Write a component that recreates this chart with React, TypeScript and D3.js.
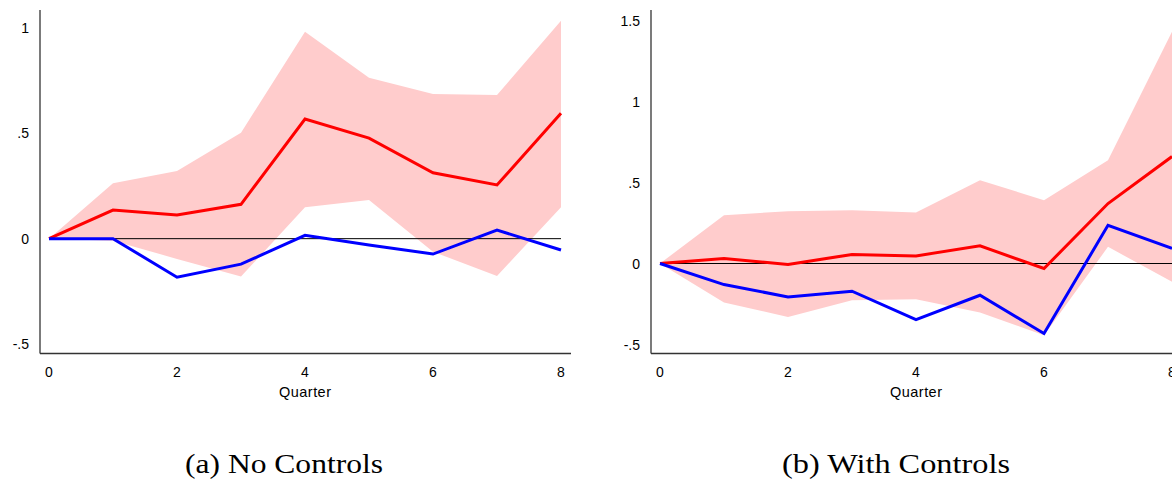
import React from "react";
import * as d3 from "d3";

// Impulse responses by quarter, with confidence band for the red response
const quarters = [0, 1, 2, 3, 4, 5, 6, 7, 8];

const noCtrlRed = [0, 0.136, 0.112, 0.163, 0.568, 0.477, 0.313, 0.255, 0.595];
const noCtrlBlue = [0, 0, -0.183, -0.121, 0.016, -0.03, -0.073, 0.041, -0.054];
const noCtrlUpper = [0, 0.263, 0.321, 0.503, 0.982, 0.764, 0.687, 0.682, 1.035];
const noCtrlLower = [0, -0.01, -0.096, -0.18, 0.149, 0.184, -0.062, -0.177, 0.149];

const ctrlRed = [0, 0.031, -0.006, 0.056, 0.047, 0.109, -0.031, 0.37, 0.66];
const ctrlBlue = [0, -0.13, -0.206, -0.171, -0.346, -0.196, -0.432, 0.236, 0.093];
const ctrlUpper = [0, 0.298, 0.323, 0.329, 0.315, 0.514, 0.391, 0.638, 1.43];
const ctrlLower = [0, -0.241, -0.33, -0.227, -0.22, -0.303, -0.443, 0.103, -0.113];

const xTicks = [0, 2, 4, 6, 8];
const yTicksA = [-0.5, 0, 0.5, 1];
const yTicksB = [-0.5, 0, 0.5, 1, 1.5];

const fmt = (v: number) => {
  if (v === 0) return "0";
  const s = String(v);
  return s.replace(/^(-?)0\./, "$1.");
};

type PanelProps = {
  x0: number;
  axisLeft: number;
  axisRight: number;
  yDomain: [number, number];
  yRange: [number, number];
  yTicks: number[];
  red: number[];
  blue: number[];
  upper: number[];
  lower: number[];
  caption: string;
  captionX: number;
  captionWidth: number;
};

function Panel(p: PanelProps) {
  const x = d3.scaleLinear().domain([0, 8]).range([p.x0, p.x0 + 512]);
  const y = d3.scaleLinear().domain(p.yDomain).range(p.yRange);
  const axisTop = 10;
  const axisBottom = 353.5;

  const band = d3
    .area<number>()
    .x((d) => x(d))
    .y0((d) => y(p.lower[d]))
    .y1((d) => y(p.upper[d]));
  const line = (vals: number[]) =>
    d3
      .line<number>()
      .x((d) => x(d))
      .y((d) => y(vals[d]))(quarters) || "";

  const font = "'Liberation Sans', Arial, Helvetica, sans-serif";

  return (
    <g>
      <path d={band(quarters) || ""} fill="rgb(255,204,204)" />
      <line
        x1={x(0)}
        x2={x(8)}
        y1={y(0)}
        y2={y(0)}
        stroke="#000"
        strokeWidth={1}
      />
      <path d={line(p.red)} fill="none" stroke="#ff0000" strokeWidth={3} strokeLinejoin="miter" />
      <path d={line(p.blue)} fill="none" stroke="#0000ff" strokeWidth={3} strokeLinejoin="miter" />

      {/* axes */}
      <line x1={p.axisLeft} x2={p.axisLeft} y1={axisTop} y2={axisBottom} stroke="#333" strokeWidth={1.3} />
      <line x1={p.axisLeft} x2={p.axisRight} y1={axisBottom} y2={axisBottom} stroke="#333" strokeWidth={1.3} />

      {p.yTicks.map((t) => (
        <text
          key={"y" + t}
          x={p.axisLeft - 11}
          y={y(t)}
          textAnchor="end"
          dominantBaseline="central"
          fontFamily={font}
          fontSize={14}
          fill="#000"
        >
          {fmt(t)}
        </text>
      ))}
      {xTicks.map((t) => (
        <text
          key={"x" + t}
          x={x(t)}
          y={372}
          textAnchor="middle"
          dominantBaseline="central"
          fontFamily={font}
          fontSize={14}
          fill="#000"
        >
          {t}
        </text>
      ))}
      <text
        x={x(4)}
        y={392}
        textAnchor="middle"
        dominantBaseline="central"
        fontFamily={font}
        fontSize={14.5}
        textLength={52}
        lengthAdjust="spacing"
        fill="#000"
      >
        Quarter
      </text>
      <text
        x={p.captionX}
        y={473}
        textAnchor="middle"
        fontFamily="'Liberation Serif', 'Times New Roman', serif"
        fontSize={27}
        textLength={p.captionWidth}
        lengthAdjust="spacingAndGlyphs"
        fill="#000"
      >
        {p.caption}
      </text>
    </g>
  );
}

export default function App() {
  return (
    <svg
      width={1172}
      height={479}
      style={{ position: "absolute", left: 0, top: 0, background: "#fff" }}
    >
      <rect width={1172} height={479} fill="#fff" />
      <Panel
        x0={49}
        axisLeft={40}
        axisRight={571}
        yDomain={[-0.5, 1]}
        yRange={[344, 28]}
        yTicks={yTicksA}
        red={noCtrlRed}
        blue={noCtrlBlue}
        upper={noCtrlUpper}
        lower={noCtrlLower}
        caption="(a) No Controls"
        captionX={284}
        captionWidth={198}
      />
      <Panel
        x0={660}
        axisLeft={651}
        axisRight={1182}
        yDomain={[-0.5, 1.5]}
        yRange={[344.5, 20.5]}
        yTicks={yTicksB}
        red={ctrlRed}
        blue={ctrlBlue}
        upper={ctrlUpper}
        lower={ctrlLower}
        caption="(b) With Controls"
        captionX={896}
        captionWidth={228}
      />
    </svg>
  );
}
